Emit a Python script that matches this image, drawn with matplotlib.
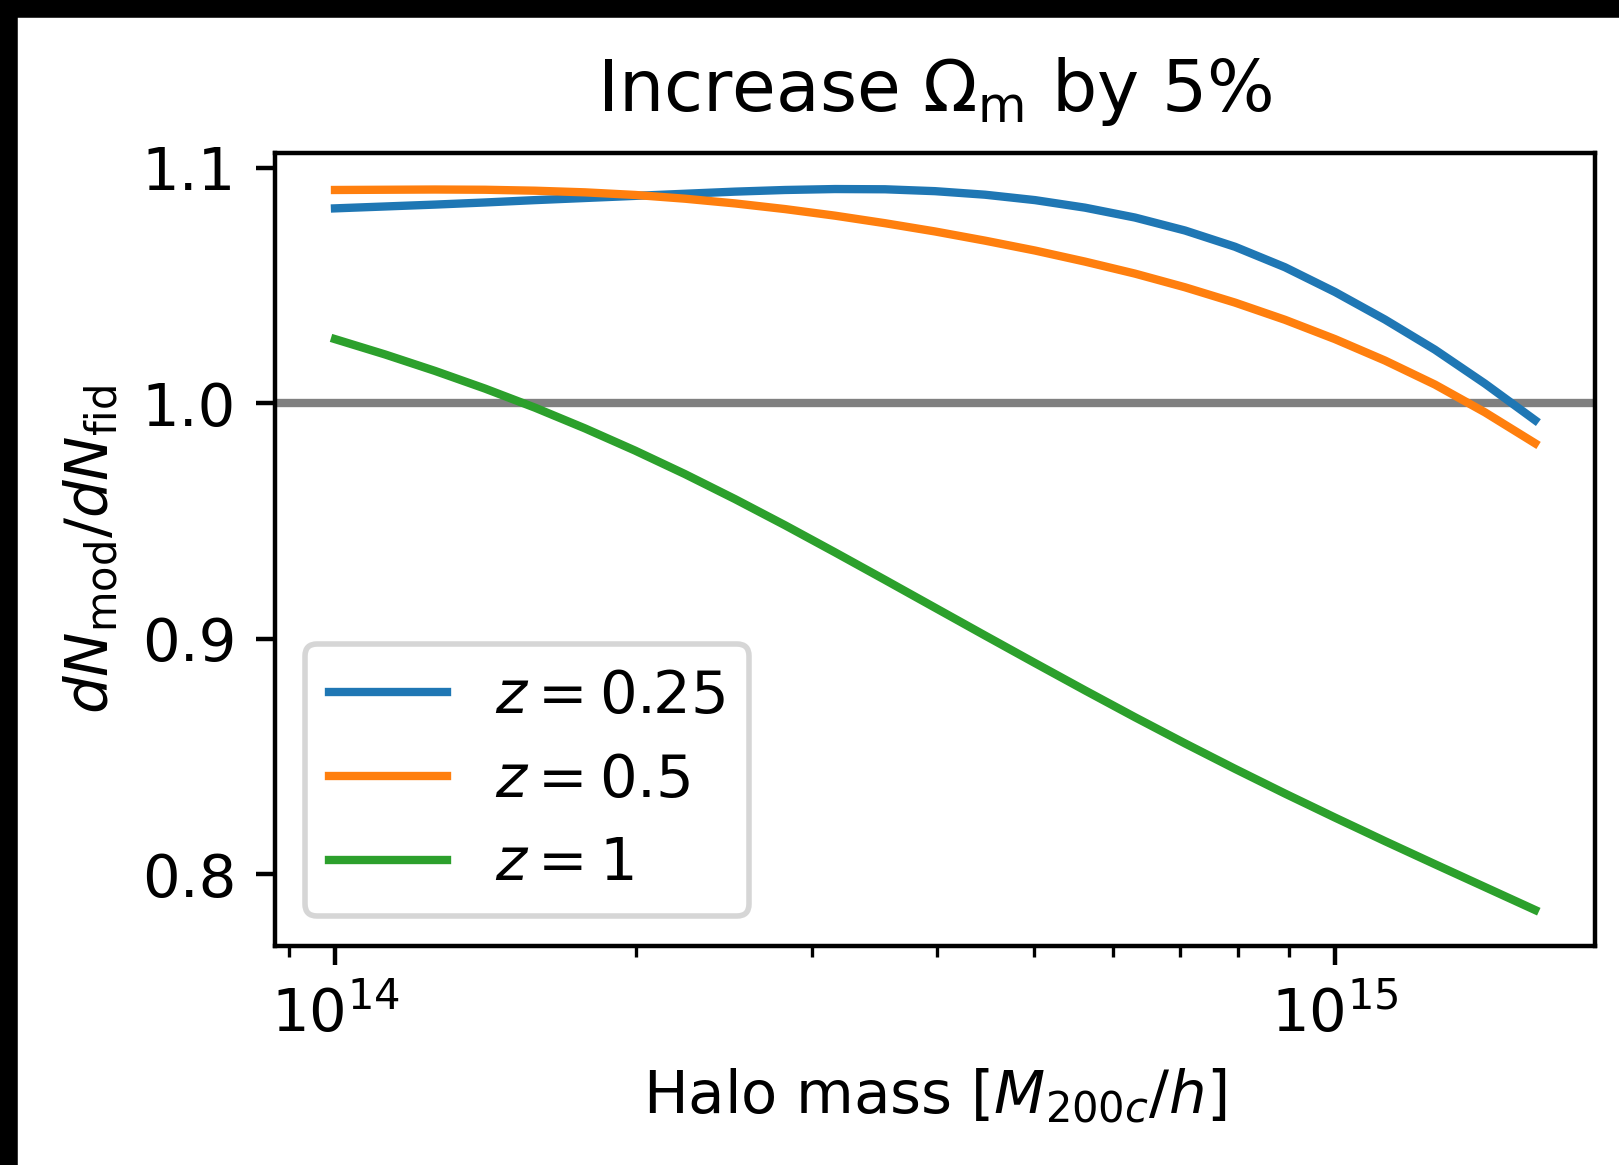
"""
Ratio of halo mass functions when Omega_m is raised by 5%.
"""
import numpy as np
import matplotlib
matplotlib.use('Agg')
import matplotlib.pyplot as plt
from matplotlib.patches import Rectangle

# log10 of halo mass [M_200c / h]
log_mass = [14.00, 14.05, 14.10, 14.15, 14.20, 14.25, 14.30, 14.35, 14.40,
            14.45, 14.50, 14.55, 14.60, 14.65, 14.70, 14.75, 14.80, 14.85,
            14.90, 14.95, 15.00, 15.05, 15.10, 15.15, 15.20]

# dN_mod / dN_fid
ratio_z025 = [1.0827, 1.0835, 1.0843, 1.0852, 1.0862, 1.0871, 1.0880, 1.0889,
              1.0898, 1.0905, 1.0909, 1.0908, 1.0900, 1.0885, 1.0862, 1.0830,
              1.0788, 1.0733, 1.0664, 1.0577, 1.0472, 1.0355, 1.0227, 1.0083,
              0.9928]
ratio_z05 = [1.0905, 1.0906, 1.0907, 1.0906, 1.0902, 1.0895, 1.0884, 1.0868,
             1.0848, 1.0824, 1.0796, 1.0764, 1.0729, 1.0690, 1.0648, 1.0601,
             1.0550, 1.0492, 1.0427, 1.0354, 1.0272, 1.0181, 1.0079, 0.9961,
             0.9830]
ratio_z1 = [1.0272, 1.0207, 1.0137, 1.0062, 0.9981, 0.9893, 0.9799, 0.9699,
            0.9593, 0.9482, 0.9367, 0.9250, 0.9132, 0.9014, 0.8897, 0.8781,
            0.8667, 0.8556, 0.8448, 0.8343, 0.8241, 0.8141, 0.8043, 0.7946,
            0.7849]

labels = [r'$z = 0.25$', r'$z = 0.5$', r'$z = 1$']
series = [ratio_z025, ratio_z05, ratio_z1]

W, H, DPI = 1619, 1165, 400
plt.rcParams['font.size'] = 10.7

fig = plt.figure(figsize=(W / DPI, H / DPI), dpi=DPI)
ax = fig.add_axes([275 / W, 1 - 946 / H, (1595 - 275) / W, (946 - 153) / H])

mass = 10 ** np.array(log_mass)
ax.axhline(1.0, color='gray')
for vals, lab in zip(series, labels):
    ax.plot(mass, vals, label=lab)

ax.set_xscale('log')
ax.set_yticks([0.8, 0.9, 1.0, 1.1])
ax.set_title(r'Increase $\Omega_{\rm m}$ by 5%', pad=7.5)
ax.set_xlabel(r'Halo mass [$M_{200c}/h$]')
ax.set_ylabel(r'$dN_{\rm mod}/dN_{\rm fid}$')
ax.legend(loc='lower left', labelspacing=0.45)

# black frame left over on the top and left edges of the original image
fig.add_artist(Rectangle((0, 1 - 15 / H), 1, 15 / H, transform=fig.transFigure,
                         color='black', zorder=10))
fig.add_artist(Rectangle((0, 0), 15 / W, 1, transform=fig.transFigure,
                         color='black', zorder=10))

fig.savefig('out.png', dpi=DPI)
